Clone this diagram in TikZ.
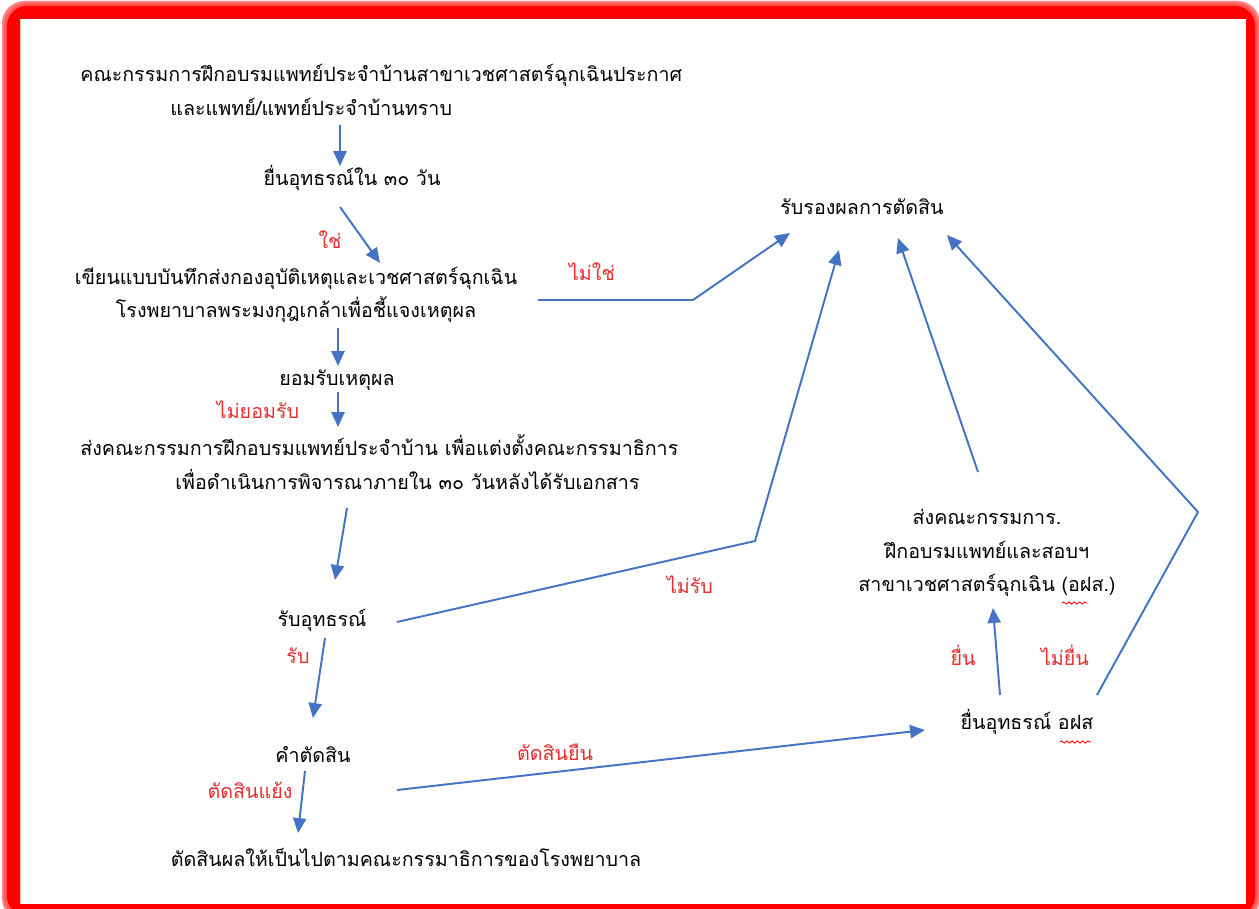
\documentclass[tikz,border=0pt]{standalone}
\usepackage{fontspec}
\newfontfamily\thaifont[Script=Thai]{Loma}
\usetikzlibrary{arrows.meta,decorations.pathmorphing}
\definecolor{flowblue}{RGB}{68,114,196}
\definecolor{labelred}{RGB}{232,45,45}

\begin{document}
\begin{tikzpicture}[x=0.02cm,y=-0.02cm,
    thai_text/.style={font=\thaifont\fontsize{11.2}{19}\selectfont,inner sep=0pt},
    red_label/.style={thai_text,text=labelred},
    flow_arrow/.style={draw=flowblue,line width=1.1pt,-{Triangle[length=8.5pt,width=7.5pt]}},
    spell_mark/.style={draw=red,line width=0.5pt,decorate,decoration={snake,amplitude=0.6pt,segment length=3pt}}]

    \useasboundingbox (0,0) rectangle (1259,909);
    % frame
    \begin{scope}
        \clip (0,0) rectangle (1259,909);
        \foreach \g/\o in {1/0.15,3/0.3,5/0.5}
            \fill[red,opacity=\o,even odd rule,rounded corners=0.45cm] (7-\g,6-\g) rectangle (1255+\g,916+\g) [sharp corners] (20,19) rectangle (1246,904);
        \fill[red,even odd rule,rounded corners=0.4cm] (7,6) rectangle (1255,916) [sharp corners] (20,19) rectangle (1246,904);
    \end{scope}

    \node[thai_text,anchor=west,align=left] (1) at (80,90) {คณะกรรมการฝึกอบรมแพทย์ประจำบ้านสาขาเวชศาสตร์ฉุกเฉินประกาศ\\\hspace*{1.8cm}และแพทย์/แพทย์ประจำบ้านทราบ};
    \node[thai_text] (2) at (352,178) {ยื่นอุทธรณ์ใน ๓๐ วัน};
    \node[thai_text,align=center] (3) at (296,295) {เขียนแบบบันทึกส่งกองอุบัติเหตุและเวชศาสตร์ฉุกเฉิน\\โรงพยาบาลพระมงกุฎเกล้าเพื่อชี้แจงเหตุผล};
    \node[thai_text] (4) at (337,380) {ยอมรับเหตุผล};
    \node[thai_text,anchor=west,align=left] (5) at (80,462) {ส่งคณะกรรมการฝึกอบรมแพทย์ประจำบ้าน เพื่อแต่งตั้งคณะกรรมาธิการ\\\hspace*{1.9cm}เพื่อดำเนินการพิจารณาภายใน ๓๐ วันหลังได้รับเอกสาร};
    \node[thai_text] (6) at (322,620) {รับอุทธรณ์};
    \node[thai_text] (7) at (313,755) {คำตัดสิน};
    \node[thai_text] (8) at (406,857) {ตัดสินผลให้เป็นไปตามคณะกรรมาธิการของโรงพยาบาล};
    \node[thai_text] (9) at (1027,722) {ยื่นอุทธรณ์ อฝส};
    \node[thai_text,align=center] (10) at (987,553) {ส่งคณะกรรมการ.\\ฝึกอบรมแพทย์และสอบฯ\\สาขาเวชศาสตร์ฉุกเฉิน (อฝส.)};
    \node[thai_text] (11) at (862,207) {รับรองผลการตัดสิน};

    \node[red_label] (l1) at (330,240) {ใช่};
    \node[red_label] (l2) at (592,272) {ไม่ใช่};
    \node[red_label] (l3) at (258,410) {ไม่ยอมรับ};
    \node[red_label] (l4) at (690,585) {ไม่รับ};
    \node[red_label] (l5) at (298,656) {รับ};
    \node[red_label] (l6) at (555,752) {ตัดสินยืน};
    \node[red_label] (l7) at (250,790) {ตัดสินแย้ง};
    \node[red_label] (l8) at (963,655) {ยื่น};
    \node[red_label] (l9) at (1065,655) {ไม่ยื่น};

    \coordinate (b1) at (693,300);
    \coordinate (b2) at (755,541);
    \coordinate (b3) at (1198,512);

    \draw[flow_arrow] ([shift={(260,35)}]1.west) -- ([shift={(-12,-12)}]2.center);
    \draw[flow_arrow] ([shift={(-12,29)}]2.center) -- ([shift={(84,-32)}]3.center);
    \draw[flow_arrow] ([shift={(242,5)}]3.center) -- (b1) -- ([shift={(-72,26)}]11.center);
    \draw[flow_arrow] ([shift={(42,33)}]3.center) -- ([shift={(1,-14)}]4.center);
    \draw[flow_arrow] ([shift={(1,12)}]4.center) -- ([shift={(258,-35)}]5.west);
    \draw[flow_arrow] ([shift={(267,46)}]5.west) -- ([shift={(13,-40)}]6.center);
    \draw[flow_arrow] ([shift={(75,2)}]6.center) -- (b2) -- ([shift={(-23,43)}]11.center);
    \draw[flow_arrow] ([shift={(3,18)}]6.center) -- ([shift={(0,-37)}]7.center);
    \draw[flow_arrow] ([shift={(84,35)}]7.center) -- ([shift={(-102,8)}]9.center);
    \draw[flow_arrow] ([shift={(-8,16)}]7.center) -- ([shift={(-108,-24)}]8.center);
    \draw[flow_arrow] ([shift={(-27,-27)}]9.center) -- ([shift={(6,55)}]10.center);
    \draw[flow_arrow] ([shift={(-9,-81)}]10.center) -- ([shift={(36,31)}]11.center);
    \draw[flow_arrow] ([shift={(70,-27)}]9.center) -- (b3) -- ([shift={(85,28)}]11.center);

    \draw[spell_mark] ([shift={(33,20)}]9.center) -- ([shift={(64,20)}]9.center);
    \draw[spell_mark] ([shift={(75,50)}]10.center) -- ([shift={(100,50)}]10.center);
\end{tikzpicture}
\end{document}
